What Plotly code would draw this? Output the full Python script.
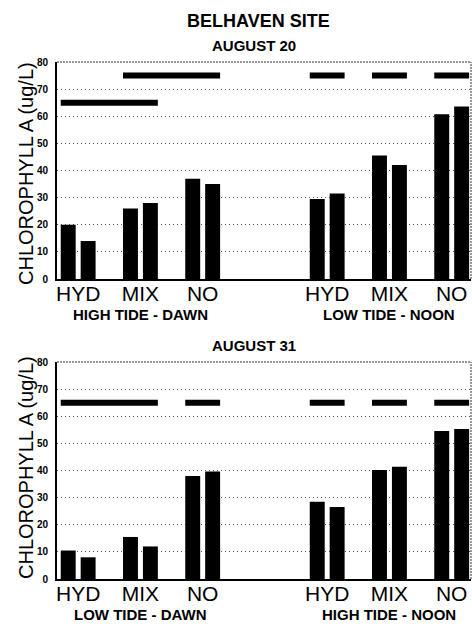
import plotly.graph_objects as go

# ---------------- data ----------------
treatments = ["HYD", "MIX", "NO"]
y_ticks = [0, 10, 20, 30, 40, 50, 60, 70, 80]

aug20_conditions = ["HIGH TIDE - DAWN", "LOW TIDE - NOON"]
aug20_rep1 = [20, 26, 37, 29.5, 45.5, 60.7]
aug20_rep2 = [14, 28, 35, 31.5, 42, 63.6]
# (condition index, first treatment, last treatment, level)
aug20_sig = [(0, "HYD", "MIX", 65), (0, "MIX", "NO", 75),
             (1, "HYD", "HYD", 75), (1, "MIX", "MIX", 75), (1, "NO", "NO", 75)]

aug31_conditions = ["LOW TIDE - DAWN", "HIGH TIDE - NOON"]
aug31_rep1 = [10.5, 15.5, 38, 28.5, 40.2, 54.6]
aug31_rep2 = [8, 12, 39.6, 26.5, 41.4, 55.3]
aug31_sig = [(0, "HYD", "MIX", 65), (0, "NO", "NO", 65),
             (1, "HYD", "HYD", 65), (1, "MIX", "MIX", 65), (1, "NO", "NO", 65)]

title = "BELHAVEN SITE"
panel_titles = ["AUGUST 20", "AUGUST 31"]
y_title = "CHLOROPHYLL A (ug/L)"

# ---------------- helpers ----------------
step = len(treatments) + 1


def pos(c, t):
    return c * step + treatments.index(t)


positions = [pos(c, t) for c in range(2) for t in treatments]
labels = [t for c in range(2) for t in treatments]

FONT = "Liberation Sans, Arial, Helvetica, sans-serif"
fig = go.Figure()

panels = [
    (aug20_rep1, aug20_rep2, aug20_sig, aug20_conditions, "x", "y"),
    (aug31_rep1, aug31_rep2, aug31_sig, aug31_conditions, "x2", "y2"),
]

W, H = 472, 626
ml, mr, mt, mb = 57, 1, 62, 47
ph = H - mt - mb
top_dom = [(579 - 279) / ph, 1.0]
bot_dom = [0.0, (579 - 362) / ph]

for rep1, rep2, sig, conds, xa, ya in panels:
    fig.add_trace(go.Bar(x=positions, y=rep1, xaxis=xa, yaxis=ya, width=0.24, offset=-0.28,
                         marker=dict(color="black", line=dict(width=0)), showlegend=False))
    fig.add_trace(go.Bar(x=positions, y=rep2, xaxis=xa, yaxis=ya, width=0.24, offset=0.04,
                         marker=dict(color="black", line=dict(width=0)), showlegend=False))
    for c, t0, t1, lvl in sig:
        fig.add_trace(go.Scatter(x=[pos(c, t0) - 0.28, pos(c, t1) + 0.28], y=[lvl, lvl],
                                 xaxis=xa, yaxis=ya, mode="lines",
                                 line=dict(color="black", width=6), showlegend=False,
                                 hoverinfo="skip"))

xcommon = dict(range=[-0.34, 6.31], tickvals=positions, ticktext=labels, showgrid=False,
               zeroline=False, showline=True, linecolor="black", linewidth=2, ticks="",
               ticklabelstandoff=-5,
               tickfont=dict(family=FONT, size=21, color="black"), domain=[0, 1])
ycommon = dict(range=[0, 80], tickvals=y_ticks, showgrid=True, gridcolor="#555555",
               griddash="1px,3px", gridwidth=1, zeroline=False, showline=True,
               linecolor="black", linewidth=2, ticks="", ticklabelstandoff=5,
               tickfont=dict(family=FONT, size=10, color="black", weight="bold"))

fig.update_layout(
    width=W, height=H, margin=dict(l=ml, r=mr, t=mt, b=mb),
    paper_bgcolor="white", plot_bgcolor="white", barmode="overlay",
    xaxis=dict(anchor="y", **xcommon),
    xaxis2=dict(anchor="y2", **xcommon),
    yaxis=dict(anchor="x", domain=top_dom, **ycommon),
    yaxis2=dict(anchor="x2", domain=bot_dom, **ycommon),
)

# borders (top / right, dotted)
for xa, ya in [("x", "y"), ("x2", "y2")]:
    fig.add_shape(type="line", xref=f"{xa} domain", yref=f"{ya} domain", x0=0, x1=1, y0=1, y1=1,
                  line=dict(color="#333333", width=1.2, dash="2px,1px"))
    fig.add_shape(type="line", xref=f"{xa} domain", yref=f"{ya} domain", x0=1, x1=1, y0=0, y1=1,
                  line=dict(color="#555555", width=1.2, dash="2px,1px"))


def py(px):
    # convert pixel y (from top) to paper coords
    return (H - mb - px) / ph


def px_(x):
    return (x - ml) / (W - ml - mr)


fig.add_annotation(text=title, xref="paper", yref="paper", x=px_(258), y=py(21),
                   xanchor="center", yanchor="middle", showarrow=False,
                   font=dict(family=FONT, size=18, color="black", weight="bold"))
for ttl, yc in zip(panel_titles, [45, 345]):
    fig.add_annotation(text=ttl, xref="paper", yref="paper", x=px_(254), y=py(yc),
                       xanchor="center", yanchor="middle", showarrow=False,
                       font=dict(family=FONT, size=15, color="black", weight="bold"))
for yc in [174, 468]:
    fig.add_annotation(text=y_title, xref="paper", yref="paper", x=px_(26), y=py(yc),
                       xanchor="center", yanchor="middle", showarrow=False, textangle=-90,
                       font=dict(family=FONT, size=20, color="black"))

for (rep1, rep2, sig, conds, xa, ya), axis_px in zip(panels, [279, 579]):
    for c, cond in enumerate(conds):
        fig.add_annotation(text=cond, xref=xa, yref="paper", x=pos(c, "MIX"), y=py(axis_px + 35),
                           xanchor="center", yanchor="middle", showarrow=False,
                           font=dict(family=FONT, size=15, color="black", weight="bold"))

fig.write_html("out.html")
